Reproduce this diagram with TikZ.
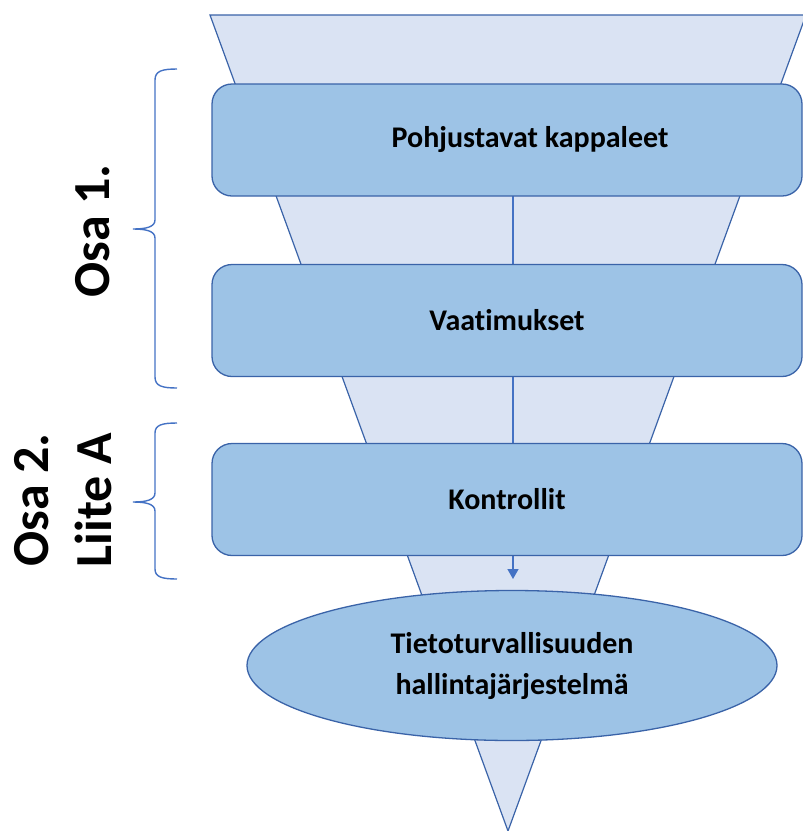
\documentclass[tikz,border=0pt]{standalone}
\usepackage{fontspec}
\setmainfont{Carlito}[Ligatures=NoCommon]
\usetikzlibrary{shapes.geometric,arrows.meta}
\definecolor{trifill}{HTML}{DAE3F3}
\definecolor{boxfill}{HTML}{9DC3E6}
\definecolor{outl}{HTML}{3A63A8}
\definecolor{accent}{HTML}{4472C4}
\tikzset{
  stepbox/.style={draw=outl, line width=1.3pt, fill=boxfill, rounded corners=20pt,
    minimum width=590pt, minimum height=112pt, inner sep=0pt,
    font=\fontsize{30}{35}\selectfont\bfseries},
  endbox/.style={ellipse, draw=outl, line width=1.3pt, fill=boxfill,
    minimum width=530pt, minimum height=150pt, inner sep=0pt, align=center,
    font=\fontsize{30}{41}\selectfont\bfseries},
  bracelbl/.style={rotate=90, align=center, inner sep=0pt,
    font=\fontsize{52}{63}\selectfont\bfseries},
  bracepath/.style={draw=accent, line width=1.4pt},
  flow/.style={draw=accent, line width=1.4pt, -{Triangle[length=10pt,width=11pt]}}
}
\begin{document}
\begin{tikzpicture}[x=1pt,y=-1pt]
\useasboundingbox (0,0) rectangle (803,831);
\clip (0,0) rectangle (803,831);
% funnel
\draw[fill=trifill, draw=outl, line width=1.2pt] (210,15) -- (806,15) -- (508,831) -- cycle;
% flow line
\coordinate (fs) at (513,196);
\coordinate (fe) at (513,579);
\draw[flow] (fs) -- (fe);
% boxes
\node[stepbox] (b1) at (507,140) {};
\node[font=\fontsize{30}{35}\selectfont\bfseries, inner sep=0pt] (t1) at (530,140) {Pohjustavat kappaleet};
\node[stepbox] (b2) at (507,320.5) {Vaatimukset};
\node[stepbox] (b3) at (507,499.5) {Kontrollit};
\node[endbox] (e) at (512,665.5) {Tietoturvallisuuden\\hallintajärjestelmä};
% braces
\draw[bracepath] (177,69) .. controls (162,69) and (155,71) .. (155,80) -- (155,220)
  .. controls (155,227) and (146,229) .. (133,229)
  .. controls (146,229) and (155,231) .. (155,238) -- (155,377)
  .. controls (155,386) and (162,388) .. (177,388);
\draw[bracepath] (177,423) .. controls (162,423) and (155,425) .. (155,433) -- (155,493)
  .. controls (155,500) and (146,502) .. (133,502)
  .. controls (146,502) and (155,504) .. (155,511) -- (155,569)
  .. controls (155,577) and (162,579) .. (177,579);
% labels
\node[bracelbl] (l1) at (93,231) {Osa 1.};
\node[bracelbl] (l2) at (63,500) {Osa 2.\\Liite A};
\end{tikzpicture}
\end{document}
